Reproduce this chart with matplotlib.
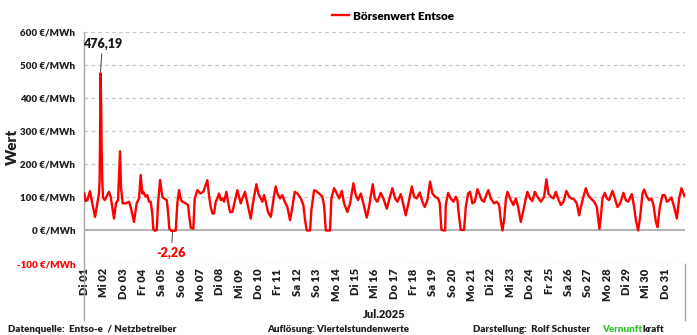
import matplotlib
matplotlib.use("Agg")
import matplotlib.pyplot as plt
from matplotlib.lines import Line2D

plt.rcParams['font.family'] = ['Lato', 'DejaVu Sans']
plt.rcParams['font.weight'] = 'heavy'
FW = 'heavy'

# Börsenstrompreis Juli 2025: Stunden seit 01.07. 00:00 und Preis in €/MWh
stunden = [
    0, 1.7, 3.8, 7.1, 9.5, 13.3, 16.2, 18.2, 19.0, 19.6, 20.0, 20.75, 21.5, 22.3, 23.2,
    25.3, 30.6, 32.7, 36.8, 39.3, 41.8, 42.8, 44.3, 45.5, 47.6,
    51.3, 55.4, 57.5, 61.6, 64.9, 67.8, 69.9, 71.9,
    73.1, 76.1, 78.1, 80.2, 82.3, 84.3, 85.5, 87.6, 89.8, 91.4, 93.9, 96.7,
    98.8, 102.2, 103.8, 105.4, 107.9, 109.5, 113.3, 115.3, 117.4, 119.9,
    121.5, 125.7, 128.6, 130.2, 131.9, 135.1, 136.9, 140.1, 142.2, 143.8,
    147.5, 152.5, 154.6, 156.7, 158.7, 160.8, 162.9, 164.9, 167.0,
    169.1, 171.1, 173.2, 176.1, 178.1, 180.6, 183.5, 186.4, 189.7,
    191.8, 193.9, 195.9, 199.2, 202.1, 206.3, 208.3, 210.4, 213.3,
    215.7, 218.7, 220.7, 222.8, 224.9, 227.7, 231.1, 233.1, 235.2, 237.3,
    239.3, 242.6, 245.5, 247.6, 251.7, 255.0, 257.9, 260.8,
    264.1, 268.3, 271.5, 273.6, 275.7, 279.8, 281.4, 284.8,
    286.9, 291.0, 295.1, 297.2, 299.3, 304.6, 306.2, 309.6,
    312.9, 315.8, 319.1, 322.0, 326.0, 329.4, 333.5,
    336.5, 339.3, 342.7, 345.9, 350.1, 352.9, 357.5,
    360.0, 363.2, 367.4, 370.7, 374.9, 377.7, 381.8,
    385.2, 388.1, 392.2, 395.1, 398.4, 401.3, 405.9,
    408.7, 412.0, 415.8, 419.0, 422.0, 425.2, 428.6,
    431.4, 434.8, 438.5, 440.6, 442.6, 445.9, 447.2, 448.0, 450.9, 454.2,
    457.5, 460.4, 462.4, 464.5, 466.6, 470.7, 472.8, 475.7, 478.2,
    481.0, 484.0, 487.2, 490.2, 492.6, 495.5, 498.8, 500.8,
    503.8, 507.9, 511.3, 514.1, 516.2, 518.2, 520.3, 522.4, 524.4,
    528.6, 531.8, 534.8, 537.7, 541.0, 544.2, 547.2, 549.2,
    552.5, 555.4, 558.4, 561.6, 565.8, 569.9, 572.7,
    575.2, 578.2, 581.4, 584.4, 587.2, 590.6, 593.8, 597.5,
    600.9, 603.7, 607.1, 610.4, 613.3, 615.4, 618.6, 621.6,
    624.4, 627.8, 631.9, 635.2, 637.2, 638.4, 640.2, 642.2, 645.1,
    647.6, 650.5, 654.6, 657.5, 660.8, 664.1, 668.2,
    671.2, 674.1, 678.6, 681.5, 683.6, 686.4, 688.9, 691.8, 693.9,
    697.2, 700.1, 702.9, 705.4, 708.4, 710.4, 713.3, 716.6, 719.5,
    722.0, 724.9, 727.7, 731.1, 734.4, 737.3, 740.1, 742.6, 743.75,
]
preis = [
    112, 89, 92, 119, 87, 41, 82, 112, 150, 305, 476.19, 406, 250, 150, 100,
    92, 117, 102, 36, 82, 92, 150, 240, 130, 82,
    82, 87, 71, 26, 82, 97, 168, 112,
    117, 102, 107, 87, 87, 51, 5, -1, 2, 82, 153, 102,
    97, 92, 56, 5, -1, -2.26, 0, 82, 122, 92,
    87, 82, 77, 41, 8, 5, 97, 122, 117, 112,
    117, 152, 105, 71, 52, 51, 87, 97, 112,
    92, 97, 87, 117, 87, 56, 56, 87, 122,
    102, 82, 97, 117, 82, 36, 71, 102, 140,
    112, 97, 87, 107, 87, 56, 41, 71, 107, 133,
    112, 97, 107, 92, 71, 31, 71, 117,
    112, 97, 77, 31, 0, 0, 61, 122,
    120, 112, 102, 75, 0, 0, 97, 128,
    112, 97, 120, 82, 56, 82, 143,
    107, 92, 112, 82, 39, 71, 140,
    97, 87, 114, 97, 66, 92, 128,
    97, 87, 110, 82, 46, 77, 133,
    102, 97, 115, 87, 71, 92, 148,
    112, 102, 97, 82, 2, 0, 0, 77, 114, 97,
    87, 102, 92, 41, 2, 2, 71, 112, 117,
    82, 87, 125, 107, 92, 87, 112, 122,
    97, 82, 87, 77, 31, 0, 31, 92, 117,
    92, 77, 97, 71, 26, 61, 97, 117,
    97, 89, 117, 102, 87, 102, 155,
    112, 102, 97, 117, 97, 77, 87, 120,
    102, 97, 94, 82, 46, 71, 102, 128,
    107, 97, 87, 71, 31, 5, 41, 97, 114,
    97, 92, 120, 97, 71, 82, 114,
    92, 87, 110, 71, 31, 0, 41, 112, 124,
    102, 92, 97, 77, 26, 10, 71, 107, 107,
    87, 92, 100, 71, 36, 97, 128, 112, 105,
]

tage = [
    "Di 01", "Mi 02", "Do 03", "Fr 04", "Sa 05", "So 06", "Mo 07", "Di 08",
    "Mi 09", "Do 10", "Fr 11", "Sa 12", "So 13", "Mo 14", "Di 15", "Mi 16",
    "Do 17", "Fr 18", "Sa 19", "So 20", "Mo 21", "Di 22", "Mi 23", "Do 24",
    "Fr 25", "Sa 26", "So 27", "Mo 28", "Di 29", "Mi 30", "Do 31",
]
y_werte = [-100, 0, 100, 200, 300, 400, 500, 600]

ROT = '#ff0000'
GRAU = '#a6a6a6'
TEXT = '#1f1f1f'

W, H = 697, 335
fig = plt.figure(figsize=(W / 100, H / 100), dpi=100)
ax_l, ax_r, ax_t, ax_b = 84.3, 684.6, 32.3, 263.5
ax = fig.add_axes([ax_l / W, 1 - ax_b / H, (ax_r - ax_l) / W, (ax_b - ax_t) / H])

# Gitternetz
for v in y_werte:
    if v == 0:
        ax.axhline(v, color=GRAU, lw=1.2, zorder=1)
    else:
        ax.axhline(v, color='#c8c8c8', lw=0.9, ls=(0, (3, 2.5)), zorder=1)

linie, = ax.plot(stunden, preis, color=ROT, lw=1.7, solid_joinstyle='round', zorder=3)

ax.set_xlim(0, 24 * len(tage))
ax.set_ylim(-100, 600)
ax.set_yticks(y_werte)
ax.set_yticklabels([f"{v} €/MWh" for v in y_werte], fontsize=7, fontweight=FW, color=TEXT)
ax.get_yticklabels()[0].set_color(ROT)
ax.set_xticks([24 * i for i in range(len(tage))])
ax.set_xticklabels(tage, rotation=90, fontsize=8, fontweight=FW, color=TEXT, va='top', ha='center')
ax.tick_params(axis='y', length=0, pad=6.5)
ax.tick_params(axis='x', length=0, pad=3.5)

for s in ['top', 'right', 'bottom']:
    ax.spines[s].set_visible(False)
ax.spines['left'].set_color(GRAU)
ax.spines['left'].set_linewidth(1.0)

# Rahmenlinien der Monatsgruppe unterhalb der Achse
tiefe = -(320 - ax_b) / (ax_b - ax_t)
for x in (0, 1):
    ax.add_line(Line2D([x, x], [0, tiefe], transform=ax.transAxes, color=GRAU,
                       lw=1.0, clip_on=False))
ax.text(0.5, -(314 - ax_b) / (ax_b - ax_t), "Jul.2025", transform=ax.transAxes,
        ha='center', va='center', fontsize=8, fontweight=FW, color=TEXT)

# Extremwerte beschriften
i_max = max(range(len(preis)), key=lambda i: preis[i])
i_min = min(range(len(preis)), key=lambda i: preis[i])
fmt = lambda v: f"{v:.2f}".replace('.', ',')
ax.annotate(fmt(preis[i_max]), xy=(stunden[i_max], preis[i_max]), xytext=(1.5, 17),
            textcoords='offset points', ha='center', va='bottom', fontsize=9,
            fontweight=FW, color='#1a1a1a',
            arrowprops=dict(arrowstyle='-', color='#404040', lw=0.7, shrinkA=1, shrinkB=1))
ax.annotate(fmt(preis[i_min]), xy=(stunden[i_min], preis[i_min]), xytext=(-1, -11),
            textcoords='offset points', ha='center', va='top', fontsize=9,
            fontweight=FW, color=ROT,
            arrowprops=dict(arrowstyle='-', color='#404040', lw=0.7, shrinkA=1, shrinkB=1))

fig.text(12 / W, 1 - 147 / H, "Wert", rotation=90, ha='center', va='center',
         fontsize=11, fontweight=FW, color=TEXT)

fig.legend([linie], ["Börsenwert Entsoe"], loc='center', bbox_to_anchor=(393 / W, 1 - 16 / H),
           frameon=False, handlelength=1.4, handletextpad=0.3,
           prop={'size': 8.5, 'weight': FW})

# Fußzeile
fy = 1 - 329 / H
fs = 7
fig.text(8 / W, fy, "Datenquelle:  Entso-e  / Netzbetreiber", fontsize=fs, fontweight=FW,
         color=TEXT, va='center')
fig.text(267 / W, fy, "Auflösung: Viertelstundenwerte", fontsize=fs, fontweight=FW,
         color=TEXT, va='center')
t0 = fig.text(473 / W, fy, "Darstellung:  Rolf Schuster", fontsize=fs, fontweight=FW,
              color=TEXT, va='center')
fig.canvas.draw()
x_v = t0.get_window_extent().x1 + 12
t1 = fig.text(x_v / W, fy, "Vernunft", fontsize=fs, fontweight=FW, color='#33c133', va='center')
fig.canvas.draw()
fig.text(t1.get_window_extent().x1 / W, fy, "kraft", fontsize=fs, fontweight=FW,
         color=TEXT, va='center')

fig.savefig("out.png", dpi=100)
